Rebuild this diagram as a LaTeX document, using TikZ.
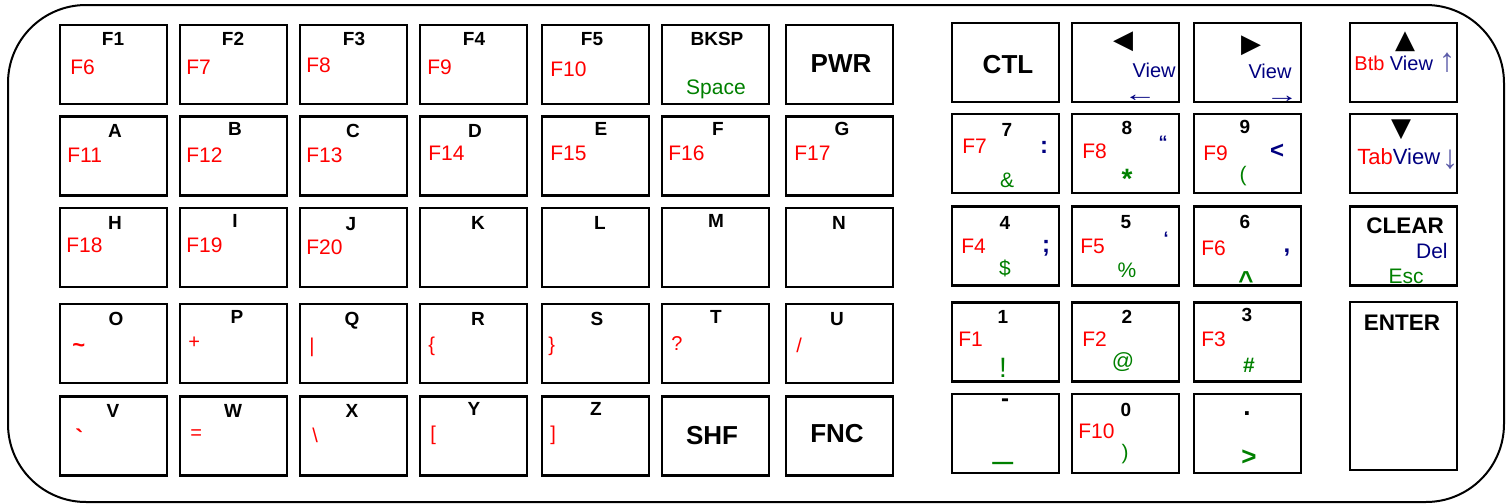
\documentclass[tikz,border=0pt]{standalone}
\usepackage{fontspec}
\setmainfont{Liberation Sans}
\newfontfamily\symf{DejaVu Sans}
\newfontfamily\arrf{Liberation Serif}
\newfontfamily\plainf{Liberation Sans}
\definecolor{redx}{HTML}{FF0000}
\definecolor{greenx}{HTML}{008000}
\definecolor{navyx}{HTML}{000080}
\definecolor{arrowx}{HTML}{5A5AA8}
\tikzset{
  key/.style={draw,line width=1.1pt,minimum width=53.5pt,minimum height=39.5pt,inner sep=0pt},
  lbl/.style={font=\bfseries\fontsize{9.5}{10}\selectfont,inner sep=0pt,anchor=base},
  big/.style={font=\bfseries\fontsize{13}{14}\selectfont,inner sep=0pt,anchor=base},
  midl/.style={font=\bfseries\fontsize{11.25}{12}\selectfont,inner sep=0pt,anchor=base},
  fn/.style={text=redx,font=\fontsize{10.5}{11}\selectfont,inner sep=0pt,anchor=base west},
  sym/.style={text=redx,font=\fontsize{10}{11}\selectfont,inner sep=0pt,anchor=base west},
  alt/.style={text=greenx,font=\fontsize{10.5}{11}\selectfont,inner sep=0pt},
  nav/.style={text=navyx,font=\bfseries\fontsize{12}{13}\selectfont,inner sep=0pt},
  nv/.style={text=navyx,font=\fontsize{10}{11}\selectfont,inner sep=0pt},
  arw/.style={font=\arrf\fontsize{16.5}{17}\selectfont,inner sep=0pt},
  harw/.style={text=navyx,font=\arrf\fontsize{11}{12}\selectfont,inner sep=0pt,anchor=base},
  tri/.style={font=\symf\fontsize{13}{14}\selectfont,inner sep=0pt}
}
\begin{document}
\begin{tikzpicture}[x=0.5pt,y=-0.5pt]
\useasboundingbox (0,0) rectangle (1512,504);
% case
\draw[line width=1pt,rounded corners=39pt] (8,5) rectangle (1504,502);

% left block, row 1
\node[key] (kf1) at (113.5,64.5) {};
\node[key] (kf2) at (233.5,64.5) {};
\node[key] (kf3) at (353.5,64.5) {};
\node[key] (kf4) at (473.5,64.5) {};
\node[key] (kf5) at (595.5,64.5) {};
\node[key] (kbk) at (715.5,64.5) {};
\node[key] (kpw) at (839.5,64.5) {};
\node[lbl] (tf1) at (113,45) {F1};   \node[fn] (sf1) at (70,74) {F6};
\node[lbl] (tf2) at (233,45) {F2};   \node[fn] (sf2) at (186,74) {F7};
\node[lbl] (tf3) at (354,45) {F3};   \node[fn] (sf3) at (306,72) {F8};
\node[lbl] (tf4) at (474,45) {F4};   \node[fn] (sf4) at (427,74) {F9};
\node[lbl] (tf5) at (592,45) {F5};   \node[fn] (sf5) at (550,76) {F10};
\node[lbl] (tbk) at (717,45) {BKSP}; \node[alt,anchor=base] (sbk) at (716,94) {Space};
\node[big] (tpw) at (841,72) {PWR};

% row 2
\node[key] (ka) at (113.5,156) {};
\node[key] (kb) at (233.5,156) {};
\node[key] (kc) at (353.5,156) {};
\node[key] (kd) at (473.5,156) {};
\node[key] (ke) at (595.5,156) {};
\node[key] (kf) at (715.5,156) {};
\node[key] (kg) at (839.5,156) {};
\node[lbl] (ta) at (115,137) {A}; \node[fn] (sa) at (67,162) {F11};
\node[lbl] (tb) at (235,135) {B}; \node[fn] (sb) at (186,162) {F12};
\node[lbl] (tc) at (353,137) {C}; \node[fn] (sc) at (306,162) {F13};
\node[lbl] (td) at (475,137) {D}; \node[fn] (sd) at (428,160) {F14};
\node[lbl] (te) at (601,135) {E}; \node[fn] (se) at (550,160) {F15};
\node[lbl] (tf) at (718,135) {F}; \node[fn] (sf) at (668,160) {F16};
\node[lbl] (tg) at (842,135) {G}; \node[fn] (sg) at (794,160) {F17};

% row 3
\node[key] (kh) at (113.5,247.5) {};
\node[key] (ki) at (233.5,247.5) {};
\node[key] (kj) at (353.5,247.5) {};
\node[key] (kk) at (473.5,247.5) {};
\node[key] (kl) at (595.5,247.5) {};
\node[key] (km) at (715.5,247.5) {};
\node[key] (kn) at (839.5,247.5) {};
\node[lbl] (th) at (115,229) {H}; \node[fn] (sh) at (66,252) {F18};
\node[lbl] (ti) at (235,227) {I}; \node[fn] (si) at (186,252) {F19};
\node[lbl] (tj) at (351,230) {J}; \node[fn] (sj) at (306,254) {F20};
\node[lbl] (tk) at (478,229) {K};
\node[lbl] (tl) at (600,229) {L};
\node[lbl] (tm) at (716,227) {M};
\node[lbl] (tn) at (839,229) {N};

% row 4
\node[key] (ko) at (113.5,343.5) {};
\node[key] (kp) at (233.5,343.5) {};
\node[key] (kq) at (353.5,343.5) {};
\node[key] (kr) at (473.5,343.5) {};
\node[key] (ks) at (595.5,343.5) {};
\node[key] (kt) at (715.5,343.5) {};
\node[key] (ku) at (839.5,343.5) {};
\node[lbl] (to) at (116,325) {O}; \node[sym,font=\bfseries\fontsize{11}{12}\selectfont] (so) at (72,352) {\textasciitilde};
\node[lbl] (tp) at (237,323) {P}; \node[sym] (sp) at (188,348) {+};
\node[lbl] (tq) at (352,325) {Q}; \node[sym] (sq) at (309,352) {|};
\node[lbl] (tr) at (478,325) {R}; \node[sym] (sr) at (428,351) {\{};
\node[lbl] (ts) at (597,325) {S}; \node[sym] (ss) at (548,351) {\}};
\node[lbl] (tt) at (716,323) {T}; \node[sym] (st) at (671,350) {?};
\node[lbl] (tu) at (837,325) {U}; \node[sym] (su) at (796,352) {/};

% row 5
\node[key] (kv) at (113.5,436) {};
\node[key] (kw) at (233.5,436) {};
\node[key] (kx) at (353.5,436) {};
\node[key] (ky) at (473.5,436) {};
\node[key] (kz) at (595.5,436) {};
\node[key] (ksh) at (715.5,436) {};
\node[key] (kfn) at (839.5,436) {};
\node[lbl] (tv) at (113,417) {V}; \node[sym,font=\plainf\bfseries\fontsize{12}{13}\selectfont] (sv) at (75,446) {`};
\node[lbl] (tw) at (233,417) {W}; \node[sym] (sw) at (190,439) {=};
\node[lbl] (tx) at (352,417) {X}; \node[sym] (sx) at (312,442) {\textbackslash};
\node[lbl] (ty) at (474,415) {Y}; \node[sym] (sy) at (430,440) {[};
\node[lbl] (tz) at (596,415) {Z}; \node[sym] (sz) at (550,440) {]};
\node[big] (tsh) at (712,444) {SHF};
\node[big] (tfn) at (837,442) {FNC};

% right block, row 1
\node[key] (kctl) at (1005.5,62.5) {};
\node[key] (klt) at (1125.5,62.5) {};
\node[key] (krt) at (1247.5,62.5) {};
\node[key] (kup) at (1403.5,62.5) {};
\node[big] (tctl) at (1008,73) {CTL};
\node[tri] (tlt) at (1123,42) {◀};
\node[nv,anchor=base east] (slt) at (1176,77) {View};
\node[harw] (alt) at (1140,101) {\scalebox{1.5}[1]{←}};
\node[tri] (trt) at (1251,46) {▶};
\node[nv,anchor=base] (srt) at (1270,78) {View};
\node[harw] (art) at (1282,102) {\scalebox{1.5}[1]{→}};
\node[tri] (tup) at (1405,42) {▲};
\node[nv,anchor=base west] (sup) at (1354,70) {\textcolor{redx}{Btb} View};
\node[arw,text=arrowx] (aup) at (1447,63) {↑};

% row 2
\node[key] (k7) at (1005.5,153.5) {};
\node[key] (k8) at (1125.5,153.5) {};
\node[key] (k9) at (1247.5,153.5) {};
\node[key] (kdn) at (1403.5,153.5) {};
\node[lbl] (t7) at (1007,136) {7}; \node[fn] (s7) at (962,153) {F7};
\node[nav] (n7) at (1044,147) {:}; \node[alt,anchor=base] (g7) at (1007,187) {\&};
\node[lbl] (t8) at (1127,134) {8}; \node[fn] (s8) at (1082,158) {F8};
\node[nav,font=\bfseries\fontsize{9}{10}\selectfont] (n8) at (1163,142) {“};
\node[alt,font=\bfseries\fontsize{14}{15}\selectfont] (g8) at (1127,179) {*};
\node[lbl] (t9) at (1245,133) {9}; \node[fn] (s9) at (1203,160) {F9};
\node[nav] (n9) at (1277,151) {<}; \node[alt] (g9) at (1243,176) {(};
\node[tri] (tdn) at (1401,130) {▼};
\node[nv,anchor=base west,font=\fontsize{11}{12}\selectfont] (sdn) at (1357,164) {\textcolor{redx}{Tab}View};
\node[arw,text=arrowx] (adn) at (1450,160) {↓};

% row 3
\node[key] (k4) at (1005.5,246) {};
\node[key] (k5) at (1125.5,246) {};
\node[key] (k6) at (1247.5,246) {};
\node[key] (kcl) at (1403.5,246) {};
\node[lbl] (t4) at (1005,229) {4}; \node[fn] (s4) at (961,253) {F4};
\node[nav] (n4) at (1046,248) {;}; \node[alt] (g4) at (1005,268) {\$};
\node[lbl] (t5) at (1126,228) {5}; \node[fn] (s5) at (1080,253) {F5};
\node[nav,font=\bfseries\fontsize{9}{10}\selectfont] (n5) at (1166,238) {‘};
\node[alt,anchor=base] (g5) at (1127,277) {\%};
\node[lbl] (t6) at (1245,228) {6}; \node[fn] (s6) at (1201,255) {F6};
\node[nav] (n6) at (1287,253) {,}; \node[alt,anchor=base,font=\bfseries\fontsize{13}{14}\selectfont] (g6) at (1246,289) {\textasciicircum};
\node[midl] (tcl) at (1405,233) {CLEAR};
\node[nv,anchor=base east,font=\fontsize{10.5}{11}\selectfont] (ncl) at (1448,258) {Del};
\node[alt,anchor=base] (gcl) at (1406,283) {Esc};

% row 4 and 5
\node[key] (k1) at (1005.5,342) {};
\node[key] (k2) at (1125.5,342) {};
\node[key] (k3) at (1247.5,342) {};
\node[key,minimum height=84pt] (kent) at (1403.5,386) {};
\node[lbl] (t1) at (1003,323) {1}; \node[fn] (s1) at (958,346) {F1};
\node[alt,anchor=base,font=\fontsize{14}{15}\selectfont] (g1) at (1003,377) {!};
\node[lbl] (t2) at (1127,323) {2}; \node[fn] (s2) at (1082,346) {F2};
\node[alt,font=\fontsize{11}{12}\selectfont] (g2) at (1123,362) {@};
\node[lbl] (t3) at (1247,321) {3}; \node[fn] (s3) at (1201,346) {F3};
\node[alt,anchor=base,font=\bfseries\fontsize{10.5}{11}\selectfont] (g3) at (1249,372) {\#};
\node[midl] (tent) at (1402,330) {ENTER};

\node[key] (kmi) at (1005.5,433.5) {};
\node[key] (k0) at (1125.5,433.5) {};
\node[key] (kdt) at (1247.5,433.5) {};
\node[lbl,anchor=center,font=\bfseries\fontsize{12}{13}\selectfont] (tmi) at (1005,403) {-};
\node[alt,anchor=base,font=\fontsize{18}{19}\selectfont] (gmi) at (1003,457) {\_};
\node[lbl] (t0) at (1126,416) {0}; \node[fn] (s0) at (1078,438) {F10};
\node[alt] (g0) at (1125,454) {)};
\node[lbl,anchor=center,font=\bfseries\fontsize{13}{14}\selectfont] (tdt) at (1247,414) {.};
\node[alt,font=\bfseries\fontsize{13}{14}\selectfont] (gdt) at (1249,458) {>};
\end{tikzpicture}
\end{document}
